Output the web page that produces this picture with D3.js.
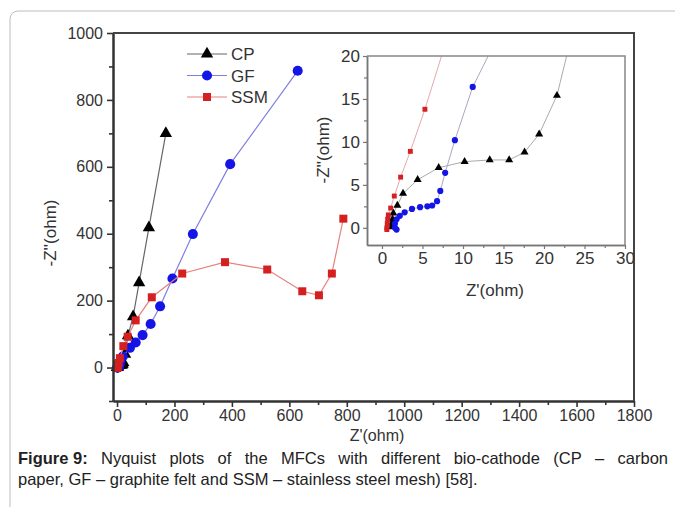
<!DOCTYPE html>
<html>
<head>
<meta charset="utf-8">
<script src="https://cdn.jsdelivr.net/npm/d3@7"></script>
<style>
  body { margin: 0; background: #fff; }
  svg { display: block; font-family: "Liberation Sans", Arial, sans-serif; }
</style>
</head>
<body>
<div id="chart"></div>
<script>
/* values */
const seriesNames = ["CP", "GF", "SSM"];

const cpX = [1.2, 1.2, 1.3, 1.4, 1.9, 2.6, 4.4, 7.0, 10.2, 13.3, 15.7, 17.6, 19.4, 21.6, 28, 38, 56, 77, 111, 170];
const cpY = [0.1, 0.5, 1.0, 1.7, 2.6, 4.0, 5.6, 7.0, 7.7, 7.9, 7.9, 8.8, 10.9, 15.4, 40, 95, 152, 254, 418, 700];

const gfX = [1.8, 1.6, 1.6, 1.8, 2.2, 2.8, 3.7, 4.7, 5.6, 6.2, 6.8, 7.2, 7.8, 9.0, 11.2, 20, 45, 65, 89, 117, 150, 193, 264, 394, 629];
const gfY = [-0.2, 0.0, 0.5, 1.0, 1.4, 1.8, 2.2, 2.4, 2.5, 2.6, 3.1, 4.3, 6.4, 10.2, 16.4, 33, 59, 75, 97, 130, 183, 266, 399, 608, 887];

const ssmX = [0.6, 0.6, 0.65, 0.7, 0.78, 1.07, 1.52, 2.3, 3.5, 5.3, 10, 22, 37, 65, 121, 227, 376, 523, 645, 703, 748, 788];
const ssmY = [-0.2, 0, 0.5, 1.0, 1.5, 2.3, 3.7, 5.9, 8.9, 13.8, 28, 64, 92, 141, 210, 281, 315, 293, 228, 216, 281, 445];

const mainXTicks = [0, 200, 400, 600, 800, 1000, 1200, 1400, 1600, 1800];
const mainYTicks = [0, 200, 400, 600, 800, 1000];
const insetXTicks = [0, 5, 10, 15, 20, 25, 30];
const insetYTicks = [0, 5, 10, 15, 20];

const captionBold = "Figure 9:";
const captionLine1 = "Nyquist plots of the MFCs with different bio-cathode (CP \u2013 carbon";
const captionLine2 = "paper, GF \u2013 graphite felt and SSM \u2013 stainless steel mesh) [58].";

const w = 675, h = 507;
const fontFam = "Liberation Sans, Arial, sans-serif";

const series = [
  {name: seriesNames[0], xs: cpX, ys: cpY, mark: "tri", fill: "#000", line: "#666", insetLine: "#aaa"},
  {name: seriesNames[1], xs: gfX, ys: gfY, mark: "circle", fill: "#1414e6", line: "#7f7fe0", insetLine: "#a9a9c4"},
  {name: seriesNames[2], xs: ssmX, ys: ssmY, mark: "square", fill: "#d42020", line: "#e88080", insetLine: "#e3aaaa"}
];

const svg = d3.select("#chart").append("svg")
  .attr("width", w)
  .attr("height", h);

// page frame (open on right and bottom)
svg.append("rect")
  .attr("x", 10).attr("y", 11)
  .attr("width", 700).attr("height", 540)
  .attr("rx", 8)
  .attr("fill", "none")
  .attr("stroke", "#bdbdbd")
  .attr("stroke-width", 1);

function symbolFor(mark, size) {
  const t = mark === "tri" ? d3.symbolTriangle : mark === "circle" ? d3.symbolCircle : d3.symbolSquare;
  return d3.symbol().type(t).size(size)();
}

function drawPlot(g, x, y, sizes, inset) {
  series.forEach(s => {
    const pts = s.xs.map((v, i) => [v, s.ys[i]]);
    g.append("path")
      .datum(pts)
      .attr("fill", "none")
      .attr("stroke", inset ? s.insetLine : s.line)
      .attr("stroke-width", inset ? 1 : 1.2)
      .attr("d", d3.line().x(d => x(d[0])).y(d => y(d[1])));
    g.selectAll(null)
      .data(pts)
      .enter()
      .append("path")
      .attr("transform", d => "translate(" + x(d[0]) + "," + y(d[1]) + ")")
      .attr("d", symbolFor(s.mark, sizes[s.mark]))
      .attr("fill", s.fill);
  });
}

function styleAxis(g, color, width, fontSize) {
  g.select(".domain").attr("stroke", color).attr("stroke-width", width);
  g.selectAll(".tick line").attr("stroke", color).attr("stroke-width", width * 0.8);
  g.selectAll(".tick text").attr("fill", "#333").attr("font-size", fontSize).attr("font-family", fontFam);
}

/* ---------- main plot ---------- */
const pLeft = 113, pRight = 634, pTop = 33, pBottom = 401;

const xScale = d3.scaleLinear().domain([-14, 1800]).range([pLeft, pRight]);
const yScale = d3.scaleLinear().domain([-100, 1000]).range([pBottom, pTop]);

const mainG = svg.append("g");
drawPlot(mainG, xScale, yScale, {tri: 66, circle: 80, square: 64}, false);

// minor ticks
svg.append("g")
  .attr("transform", "translate(0," + pBottom + ")")
  .call(d3.axisBottom(xScale).tickValues(d3.range(100, 1800, 200)).tickSize(4).tickFormat("").tickSizeOuter(0))
  .call(g => styleAxis(g, "#333", 2, 16));
svg.append("g")
  .attr("transform", "translate(" + pLeft + ",0)")
  .call(d3.axisLeft(yScale).tickValues(d3.range(-100, 1000, 200)).tickSize(4).tickFormat("").tickSizeOuter(0))
  .call(g => styleAxis(g, "#333", 2, 16));

svg.append("g")
  .attr("transform", "translate(0," + pBottom + ")")
  .call(d3.axisBottom(xScale).tickValues(mainXTicks).tickSize(6).tickPadding(3).tickSizeOuter(0).tickFormat(d3.format("d")))
  .call(g => styleAxis(g, "#333", 2, 16));
svg.append("g")
  .attr("transform", "translate(" + pLeft + ",0)")
  .call(d3.axisLeft(yScale).tickValues(mainYTicks).tickSize(6).tickPadding(4).tickSizeOuter(0).tickFormat(d3.format("d")))
  .call(g => styleAxis(g, "#333", 2, 16));

// top and right frame
svg.append("path")
  .attr("d", "M" + pLeft + "," + pTop + "H" + pRight + "V" + pBottom)
  .attr("fill", "none")
  .attr("stroke", "#444")
  .attr("stroke-width", 2);

svg.append("text")
  .attr("x", 377).attr("y", 441)
  .attr("text-anchor", "middle")
  .attr("font-size", 16).attr("fill", "#333")
  .text("Z'(ohm)");

svg.append("text")
  .attr("transform", "translate(56,233) rotate(-90)")
  .attr("text-anchor", "middle")
  .attr("font-size", 17).attr("fill", "#333")
  .text("-Z''(ohm)");

// legend
const legend = svg.append("g");
series.forEach((s, i) => {
  const ly = 54 + i * 21.5;
  legend.append("line")
    .attr("x1", 187).attr("x2", 227).attr("y1", ly).attr("y2", ly)
    .attr("stroke", s.line).attr("stroke-width", 1.2);
  legend.append("path")
    .attr("transform", "translate(207," + ly + ")")
    .attr("d", symbolFor(s.mark, {tri: 66, circle: 80, square: 64}[s.mark]))
    .attr("fill", s.fill);
  legend.append("text")
    .attr("x", 231).attr("y", ly + 6)
    .attr("font-size", 17).attr("fill", "#333")
    .text(s.name);
});

/* ---------- inset ---------- */
const iLeft = 367, iRight = 625, iTop = 56, iBottom = 245;
const ix = d3.scaleLinear().domain([-1.85, 30]).range([iLeft, iRight]);
const iy = d3.scaleLinear().domain([-2, 20]).range([iBottom, iTop]);

svg.append("rect")
  .attr("x", iLeft).attr("y", iTop)
  .attr("width", iRight - iLeft).attr("height", iBottom - iTop)
  .attr("fill", "#fff");

svg.append("clipPath").attr("id", "insetClip")
  .append("rect")
  .attr("x", iLeft).attr("y", iTop)
  .attr("width", iRight - iLeft).attr("height", iBottom - iTop);

const insetG = svg.append("g").attr("clip-path", "url(#insetClip)");
drawPlot(insetG, ix, iy, {tri: 28, circle: 30, square: 24}, true);

svg.append("g")
  .attr("transform", "translate(0," + iBottom + ")")
  .call(d3.axisBottom(ix).tickValues(d3.range(2.5, 30, 5)).tickSize(3).tickFormat("").tickSizeOuter(0))
  .call(g => styleAxis(g, "#777", 1.5, 17));
svg.append("g")
  .attr("transform", "translate(" + iLeft + ",0)")
  .call(d3.axisLeft(iy).tickValues(d3.range(2.5, 20, 5)).tickSize(3).tickFormat("").tickSizeOuter(0))
  .call(g => styleAxis(g, "#777", 1.5, 17));
svg.append("g")
  .attr("transform", "translate(0," + iBottom + ")")
  .call(d3.axisBottom(ix).tickValues(insetXTicks).tickSize(4).tickPadding(3).tickSizeOuter(0))
  .call(g => styleAxis(g, "#777", 1.5, 17));
svg.append("g")
  .attr("transform", "translate(" + iLeft + ",0)")
  .call(d3.axisLeft(iy).tickValues(insetYTicks).tickSize(4).tickPadding(3).tickSizeOuter(0))
  .call(g => styleAxis(g, "#777", 1.5, 17));

svg.append("path")
  .attr("d", "M" + iLeft + "," + iTop + "H" + iRight + "V" + iBottom)
  .attr("fill", "none")
  .attr("stroke", "#888")
  .attr("stroke-width", 1.5);

svg.append("text")
  .attr("x", 495).attr("y", 296)
  .attr("text-anchor", "middle")
  .attr("font-size", 17).attr("fill", "#333")
  .text("Z'(ohm)");

svg.append("text")
  .attr("transform", "translate(329,150) rotate(-90)")
  .attr("text-anchor", "middle")
  .attr("font-size", 17).attr("fill", "#333")
  .text("-Z''(ohm)");

/* ---------- caption (first line justified) ---------- */
const capX = 18, capRight = 668, capSize = 16.5;
const words1 = [{t: captionBold, bold: true}].concat(captionLine1.split(" ").map(t => ({t: t, bold: false})));
const wordEls = words1.map(wd => svg.append("text")
  .attr("y", 464)
  .attr("font-size", capSize)
  .attr("font-weight", wd.bold ? "bold" : "normal")
  .attr("fill", "#222")
  .text(wd.t));
const widths = wordEls.map(el => el.node().getComputedTextLength());
const gap = (capRight - capX - d3.sum(widths)) / (wordEls.length - 1);
let cx = capX;
wordEls.forEach((el, i) => {
  el.attr("x", cx);
  cx += widths[i] + gap;
});

svg.append("text")
  .attr("x", capX).attr("y", 485)
  .attr("font-size", capSize).attr("fill", "#222")
  .text(captionLine2);
</script>
</body>
</html>
